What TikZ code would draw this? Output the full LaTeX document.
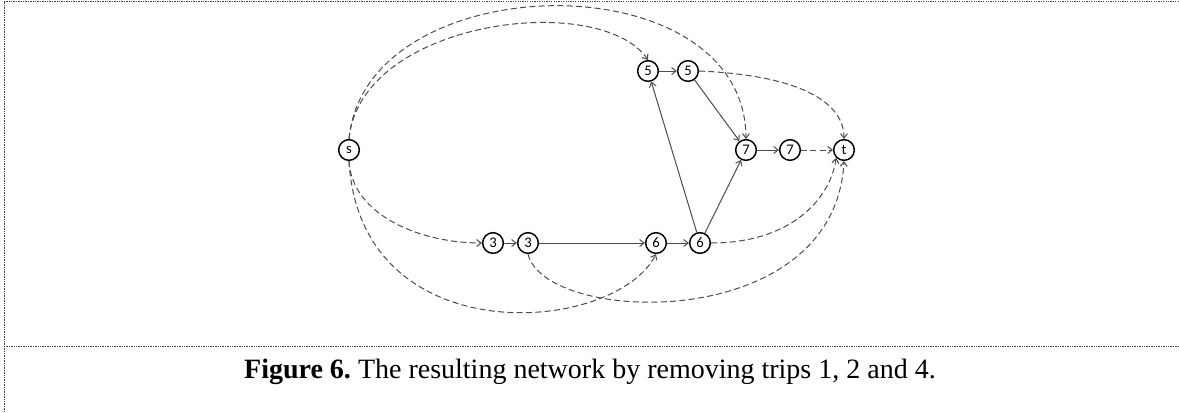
\documentclass[tikz,border=0pt]{standalone}
\usepackage{fontspec}
\setmainfont{Liberation Serif}
\newfontfamily\noeudfont{Carlito}
\usetikzlibrary{positioning, arrows.meta}
\tikzset{
    %Define standard arrow tip
    >={Straight Barb[length=3.4pt,width=5.2pt]},
    %Define style for the vertices
    noeud/.style={
           circle,
           draw=black, line width=1.1pt,
           minimum size=15.5pt,
           inner sep=0pt,
           font=\noeudfont\fontsize{11}{12}\selectfont},
    % Define arrow styles
    lien/.style={
           ->,
           draw=black!70,
           line width=0.75pt},
    tiret/.style={
           lien,
           dash pattern=on 4.5pt off 2.5pt},
    cadre/.style={
           draw=black!75,
           line width=0.75pt,
           dash pattern=on 1pt off 0.8pt}
}

\begin{document}
\begin{tikzpicture}[x=0.75pt, y=-0.75pt]
	\useasboundingbox (0,0) rectangle (1179,412);
	%
	% cadre
	%
	\draw[cadre] (4,412) -- (4,1.5) -- (1179,1.5);
	\draw[cadre] (4,346) -- (1179,346);
	%
	% noeuds
	%
	\node[noeud] (src) at (349,150) {s};
	\node[noeud] (cinqa) at (648,71) {5};
	\node[noeud] (cinqb) at (688,71) {5};
	\node[noeud] (septa) at (746,150) {7};
	\node[noeud] (septb) at (790,150) {7};
	\node[noeud] (puits) at (844,150) {t};
	\node[noeud] (troisa) at (493,243) {3};
	\node[noeud] (troisb) at (528,243) {3};
	\node[noeud] (sixa) at (656,243) {6};
	\node[noeud] (sixb) at (700,243) {6};
	%
	% Liens
	%
	\draw[lien] (troisa) -- (troisb);
	\draw[lien] (troisb) -- (sixa);
	\draw[lien] (sixa) -- (sixb);
	\draw[lien] (sixb) -- (cinqa);
	\draw[lien] (sixb) -- (septa);
	\draw[lien] (cinqa) -- (cinqb);
	\draw[lien] (cinqb) -- (septa);
	\draw[lien] (septa) -- (septb);
	\draw[tiret] (septb) -- (puits);
	\draw[tiret] (src.north) .. controls (360,20) and (600,-10) .. (cinqa.north);
	\draw[tiret] (src.north) .. controls (365,-35) and (745,-42) .. (septa.north);
	\draw[tiret] (cinqb.east) .. controls (795,75) and (844,100) .. (puits.north);
	\draw[tiret] (src.south) .. controls (352,215) and (420,243) .. (troisa.west);
	\draw[tiret] (src.south) .. controls (360,355) and (615,335) .. (sixa.south);
	\draw[tiret] (sixb.east) .. controls (790,243) and (830,200) .. (puits.south west);
	\draw[tiret] (troisb.south) .. controls (545,325) and (835,335) .. (puits.south);
	%
	% legende
	%
	\node[font=\fontsize{21}{24}\selectfont] (legende) at (590,372)
	  {\textbf{Figure 6.}\ The resulting network by removing trips 1, 2 and 4.};
\end{tikzpicture}
\end{document}
